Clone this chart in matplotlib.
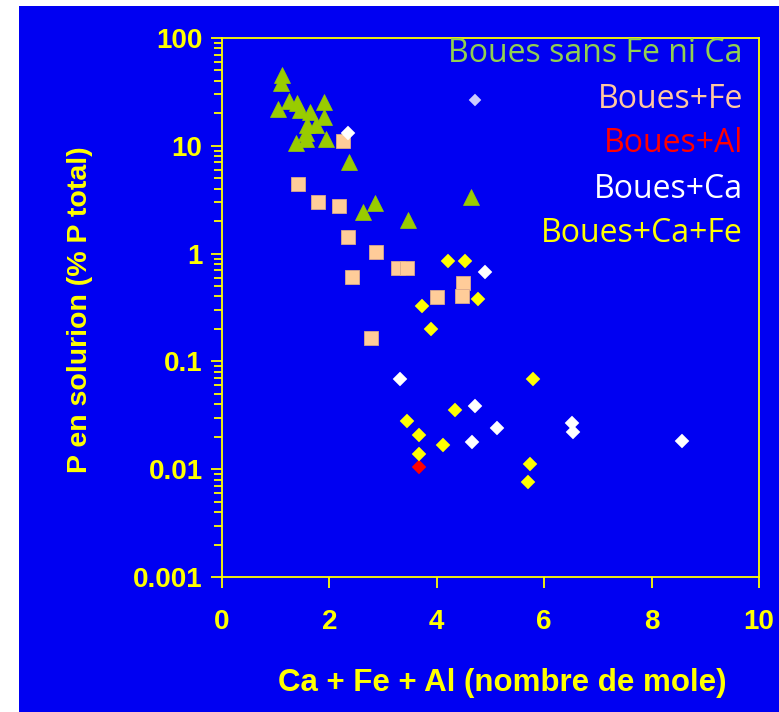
import matplotlib
matplotlib.use("Agg")
import matplotlib.pyplot as plt
from matplotlib.patches import Rectangle
from matplotlib.ticker import LogLocator, NullFormatter, FixedLocator

# data
sans_x = [1.12, 1.10, 1.05, 1.25, 1.39, 1.45, 1.63, 1.90, 1.90, 1.75, 1.58,
          1.56, 1.56, 1.38, 1.94, 2.37, 2.84, 2.62, 3.46, 4.64]
sans_y = [45, 38, 21.8, 26.2, 24.8, 21.5, 20.7, 25.6, 18.4, 15.6, 15.6,
          13.1, 11.5, 10.7, 11.5, 7.1, 2.97, 2.45, 2.05, 3.35]

fe_x = [2.25, 1.41, 1.78, 2.18, 2.34, 2.87, 3.27, 3.44, 2.43, 4.49, 4.00, 4.46, 2.78]
fe_y = [11.1, 4.4, 3.03, 2.77, 1.42, 1.04, 0.74, 0.74, 0.61, 0.537, 0.394, 0.407, 0.164]

al_x = [3.66]
al_y = [0.0104]

ca_x = [2.34, 4.90, 3.31, 4.71, 5.12, 4.65, 6.51, 6.54, 8.57]
ca_y = [13.1, 0.67, 0.069, 0.0388, 0.0243, 0.0178, 0.027, 0.022, 0.0184]

cafe_x = [4.21, 4.53, 4.77, 3.72, 3.90, 5.80, 4.34, 3.44, 3.66, 4.12, 3.66, 5.74, 5.70]
cafe_y = [0.86, 0.86, 0.379, 0.327, 0.199, 0.068, 0.0354, 0.0282, 0.0208,
          0.0168, 0.0138, 0.0111, 0.00765]

stray_x = [4.71]
stray_y = [26.6]

legend_labels = ["Boues sans Fe ni Ca", "Boues+Fe", "Boues+Al", "Boues+Ca", "Boues+Ca+Fe"]
legend_colors = ["#92D050", "#FFC7A0", "#FF0000", "#FFFFFF", "#FFFF00"]

x_ticks = [0, 2, 4, 6, 8, 10]
y_ticks = [0.001, 0.01, 0.1, 1, 10, 100]
y_ticklabels = ["0.001", "0.01", "0.1", "1", "10", "100"]

BLUE = "#0000F2"
YEL = "#FFFF00"

fig = plt.figure(figsize=(7.79, 7.12), dpi=100, facecolor="white")
fig.patches.append(Rectangle((19 / 779, 0), 1, 706 / 712, transform=fig.transFigure,
                             facecolor=BLUE, edgecolor="none", zorder=-10))

ax = fig.add_axes([222 / 779, 1 - 577 / 712, (759 - 222) / 779, (577 - 38) / 712])
ax.set_zorder(2)
ax.set_facecolor(BLUE)

ax.plot(sans_x, sans_y, ls="none", marker="^", ms=11, mfc="#99CC00", mec="#99CC00", mew=0.5)
ax.plot(fe_x, fe_y, ls="none", marker="s", ms=9.5, mfc="#FFCC99", mec="#D9A98C", mew=0.6)
ax.plot(al_x, al_y, ls="none", marker="D", ms=7.5, mfc="#FF0000", mec="#FF0000", mew=0.3)
ax.plot(ca_x, ca_y, ls="none", marker="D", ms=7.5, mfc="white", mec="white", mew=0.3)
ax.plot(cafe_x, cafe_y, ls="none", marker="D", ms=7.5, mfc=YEL, mec=YEL, mew=0.3)
ax.plot(stray_x, stray_y, ls="none", marker="D", ms=6, mfc="#CCCCFF", mec="#CCCCFF", mew=0.3)

ax.set_yscale("log")
ax.set_xlim(0, 10)
ax.set_ylim(0.001, 100)
ax.xaxis.set_major_locator(FixedLocator(x_ticks))
ax.set_xticklabels([str(t) for t in x_ticks])
ax.yaxis.set_major_locator(FixedLocator(y_ticks))
ax.set_yticklabels(y_ticklabels)
ax.yaxis.set_minor_locator(LogLocator(base=10, subs=range(2, 10)))
ax.yaxis.set_minor_formatter(NullFormatter())

for s in ax.spines.values():
    s.set_color(YEL)
    s.set_linewidth(1.3)
ax.tick_params(axis="both", which="major", direction="out", length=8, width=1.3,
               color=YEL, labelcolor=YEL, labelsize=20, pad=15)
ax.tick_params(axis="y", which="major", pad=6)
ax.tick_params(axis="y", which="minor", direction="out", length=5.5, width=1.3, color=YEL)
for lab in ax.get_xticklabels() + ax.get_yticklabels():
    lab.set_fontfamily(["Liberation Sans", "DejaVu Sans"])
    lab.set_fontweight("bold")

ax.set_xlabel("Ca + Fe + Al (nombre de mole)", color=YEL, fontsize=22.5, fontweight="bold",
              family=["Liberation Sans", "DejaVu Sans"])
ax.xaxis.set_label_coords((502 - 222) / 537, -(683 - 577) / 539)
ax.xaxis.label.set_va("center")
ax.set_ylabel("P en solurion (% P total)", color=YEL, fontsize=20.5, fontweight="bold",
              family=["Liberation Sans", "DejaVu Sans"])
ax.yaxis.set_label_coords(-(222 - 80) / 537, (577 - 310) / 539)
ax.yaxis.label.set_va("center")

# text legend in the upper right corner
for i, (lab, col) in enumerate(zip(legend_labels, legend_colors)):
    ax.text(743 / 779, 1 - (54 + 45 * i) / 712, lab, color=col, fontsize=23,
            family=["Open Sans", "DejaVu Sans"], ha="right", va="center",
            transform=fig.transFigure, zorder=5)

fig.savefig("out.png", dpi=100, facecolor="white")
